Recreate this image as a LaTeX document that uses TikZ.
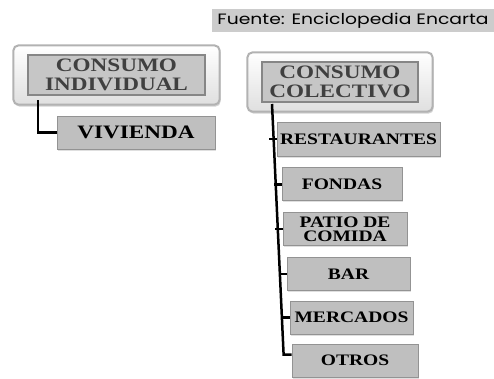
\documentclass[tikz,border=0pt]{standalone}
\usepackage{fontspec}
\setmainfont[FakeStretch=1.22]{Liberation Serif}
\newfontfamily\fuentefont[FakeStretch=1.25]{Poppins}
\usepackage{tikz}
\usetikzlibrary{positioning}
\usetikzlibrary{fit}
\usetikzlibrary{backgrounds}
\usetikzlibrary{shadows}

\definecolor{hdrtext}{HTML}{404040}
\tikzset{
  hdr/.style={draw=gray!95,line width=1.2pt,fill=gray!45,text=hdrtext,align=center,
    font=\bfseries\fontsize{19}{19}\selectfont,minimum width=177pt,minimum height=40pt,inner sep=1pt},
  hdrframe/.style={draw=gray!60,line width=2pt,rounded corners=5pt,top color=white,bottom color=gray!25,
    drop shadow={opacity=0.35,shadow xshift=1pt,shadow yshift=-2pt}},
  item/.style={draw=gray!85,line width=0.8pt,fill=gray!50,align=center,
    font=\bfseries\fontsize{16}{14.5}\selectfont,minimum height=33pt,inner sep=1pt,
    drop shadow={opacity=0.25,shadow xshift=1pt,shadow yshift=-1.5pt}},
  link/.style={line width=2.5pt,black}
}

\begin{document}
\begin{tikzpicture}[x=1pt,y=-1pt,node distance=11pt]
  \useasboundingbox (0,0) rectangle (494,378);
  \node[fill=gray!40,minimum width=282pt,minimum height=23pt,inner sep=0pt,font=\fuentefont\fontsize{15}{15}\selectfont](fuente) at (353,20.5) {Fuente: Enciclopedia Encarta};
  % consumo individual
  \node[hdr](ind) at (116.5,75) {CONSUMO\\INDIVIDUAL};
  \begin{scope}[on background layer]
    \node[hdrframe,fit=(ind),inner xsep=14pt,inner ysep=9pt](indframe) {};
  \end{scope}
  \node[item,minimum width=158pt,font=\bfseries\fontsize{19}{14}\selectfont](viv) at (136,132.5) {VIVIENDA};
  \coordinate (indstem) at (38,100);
  \draw[link] (indstem) |- (viv.west);
  % consumo colectivo
  \node[hdr,minimum width=156pt](col) at (340,82) {CONSUMO\\COLECTIVO};
  \begin{scope}[on background layer]
    \node[hdrframe,fit=(col),inner xsep=14pt,inner ysep=9pt](colframe) {};
  \end{scope}
  \node[item,minimum width=163pt,minimum height=34pt](rest) at (358.5,139) {RESTAURANTES};
  \node[item,minimum width=120pt,below=of rest,xshift=-16.5pt](fondas) {FONDAS};
  \node[item,minimum width=124pt,below=of fondas,xshift=3pt](patio) {PATIO DE\\COMIDA};
  \node[item,minimum width=123pt,below=of patio,xshift=3.5pt](bar) {BAR};
  \node[item,minimum width=123pt,below=10pt of bar,xshift=3pt](merc) {MERCADOS};
  \node[item,minimum width=126pt,below=9pt of merc,xshift=3.5pt](otros) {OTROS};
  \coordinate (colstem) at (272,104);
  \draw[link] (colstem) -- ([xshift=-8pt,yshift=6pt]otros.west) -- ([yshift=6pt]otros.west);
  \foreach \n in {rest,fondas,patio,bar,merc}
    \draw[link] (\n.west) -- ++(-8,0);
\end{tikzpicture}
\end{document}
